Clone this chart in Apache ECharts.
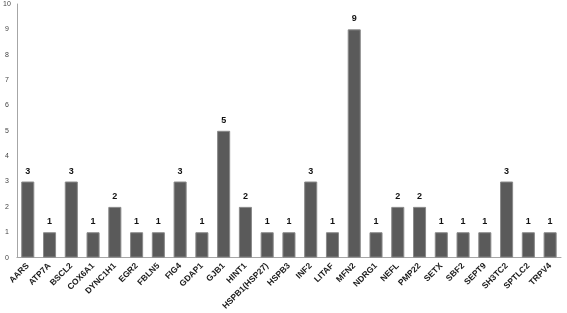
<!DOCTYPE html>
<html><head><meta charset="utf-8">
<script src="https://cdn.jsdelivr.net/npm/echarts@6/dist/echarts.min.js"></script>
<style>html,body{margin:0;padding:0;background:#fff}#c{width:567px;height:313px}</style>
</head><body><div id="c"></div>
<script>
const categories = ["AARS","ATP7A","BSCL2","COX6A1","DYNC1H1","EGR2","FBLN5","FIG4","GDAP1","GJB1","HINT1","HSPB1(HSP27)","HSPB3","INF2","LITAF","MFN2","NDRG1","NEFL","PMP22","SETX","SBF2","SEPT9","SH3TC2","SPTLC2","TRPV4"];
const values = [3,1,3,1,2,1,1,3,1,5,2,1,1,3,1,9,1,2,2,1,1,1,3,1,1];
const yTicks = [0,1,2,3,4,5,6,7,8,9,10];
const chart = echarts.init(document.getElementById('c'), null, {renderer:'canvas'});
chart.setOption({
  animation:false,
  grid:{left:16, right:6, top:4, bottom:55, containLabel:false},
  xAxis:{type:'category', data:categories,
    axisLine:{lineStyle:{color:'#a6a6a6'}}, axisTick:{show:false},
    axisLabel:{interval:0, rotate:45, fontSize:8.5, fontWeight:'bold', color:'#1a1a1a', fontFamily:'Liberation Sans', margin:7}},
  yAxis:{type:'value', min:yTicks[0], max:yTicks[yTicks.length-1], interval:1,
    splitLine:{show:false}, axisLine:{show:true, lineStyle:{color:'#a6a6a6'}}, axisTick:{show:false},
    axisLabel:{fontSize:7, color:'#444', fontFamily:'Liberation Sans', margin:10, align:'center'}},
  series:[{type:'bar', data:values, barWidth:'60%',
    itemStyle:{color:'#5a5a5a', borderColor:'#8a8a8a', borderWidth:1},
    label:{show:true, position:'top', fontSize:9, fontWeight:'bold', color:'#111', fontFamily:'Liberation Sans', distance:6}}]
});
</script></body></html>
